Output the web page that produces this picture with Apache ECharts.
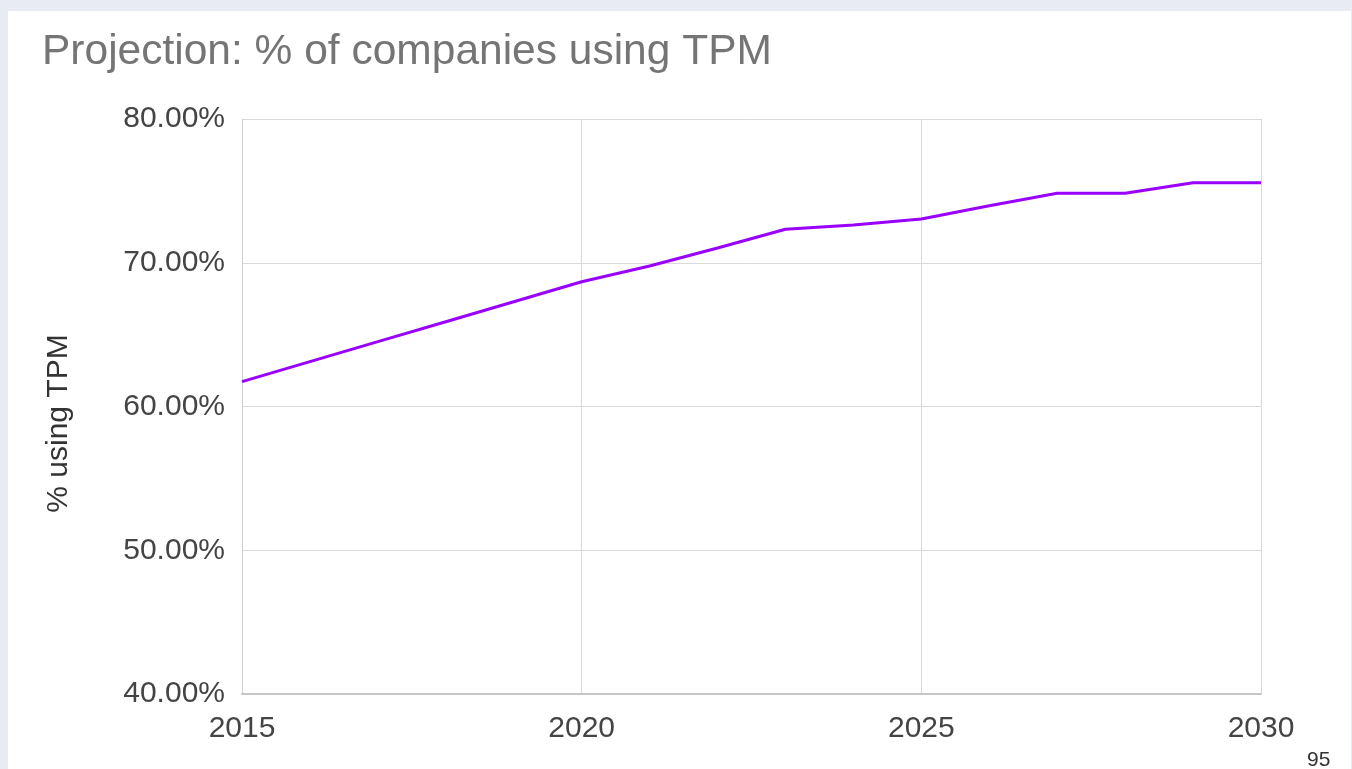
<!DOCTYPE html>
<html>
<head>
<meta charset="utf-8">
<script src="https://cdn.jsdelivr.net/npm/echarts@6/dist/echarts.min.js"></script>
<style>
  html, body { margin: 0; padding: 0; background: #e8ebf3; }
  body { width: 1352px; height: 769px; position: relative; overflow: hidden; }
  #chart { position: absolute; left: 8px; top: 11px; width: 1343px; height: 758px; background: #ffffff; }
</style>
</head>
<body>
<div id="chart"></div>
<script>
// Projected share of companies using TPM, one value per year (percent)
const years = [2015, 2016, 2017, 2018, 2019, 2020, 2021, 2022, 2023, 2024, 2025, 2026, 2027, 2028, 2029, 2030];
const shareUsingTPM = [61.73, 63.12, 64.51, 65.90, 67.29, 68.68, 69.77, 71.03, 72.33, 72.63, 73.04, 73.97, 74.83, 74.83, 75.57, 75.57];
const yTicks = [40, 50, 60, 70, 80];
const xTicks = [2015, 2020, 2025, 2030];

const chart = echarts.init(document.getElementById('chart'), null, { renderer: 'canvas' });

const axisFont = 'Liberation Sans, Arial, sans-serif';
const points = years.map((y, i) => [y, shareUsingTPM[i]]);

chart.setOption({
  animation: false,
  backgroundColor: '#ffffff',
  title: {
    text: 'Projection: % of companies using TPM',
    left: 29,
    top: 15,
    textStyle: { fontFamily: axisFont, fontSize: 42.5, fontWeight: 'normal', color: '#757575' }
  },
  grid: { left: 234, top: 108, right: 90, bottom: 75, containLabel: false },
  xAxis: {
    type: 'value',
    min: xTicks[0],
    max: xTicks[xTicks.length - 1],
    interval: 5,
    axisLine: { show: true, lineStyle: { color: '#c6c6c6', width: 2 } },
    axisTick: { show: false },
    axisLabel: { margin: 20, fontFamily: axisFont, fontSize: 30, color: '#444444', formatter: v => String(v) },
    splitLine: { show: true, lineStyle: { color: '#d9d9d9', width: 1 } }
  },
  yAxis: {
    type: 'value',
    min: yTicks[0],
    max: yTicks[yTicks.length - 1],
    interval: 10,
    name: '% using TPM',
    nameLocation: 'middle',
    nameGap: 168,
    nameTextStyle: { fontFamily: axisFont, fontSize: 30, color: '#333333', padding: [0, 34, 0, 0] },
    axisLine: { show: true, lineStyle: { color: '#d0d0d0', width: 1 } },
    axisTick: { show: false },
    axisLabel: { margin: 17, fontFamily: axisFont, fontSize: 30, color: '#444444', formatter: v => v.toFixed(2) + '%' },
    splitLine: { show: true, lineStyle: { color: '#d9d9d9', width: 1 } }
  },
  graphic: [{
    type: 'text',
    left: 1299,
    top: 739,
    style: { text: '95', font: '21px Liberation Sans, Arial, sans-serif', fill: '#333333' }
  }],
  series: [{
    type: 'line',
    data: points,
    showSymbol: false,
    symbol: 'none',
    lineStyle: { color: '#9900ff', width: 3 },
    itemStyle: { color: '#9900ff' }
  }]
});
</script>
</body>
</html>
